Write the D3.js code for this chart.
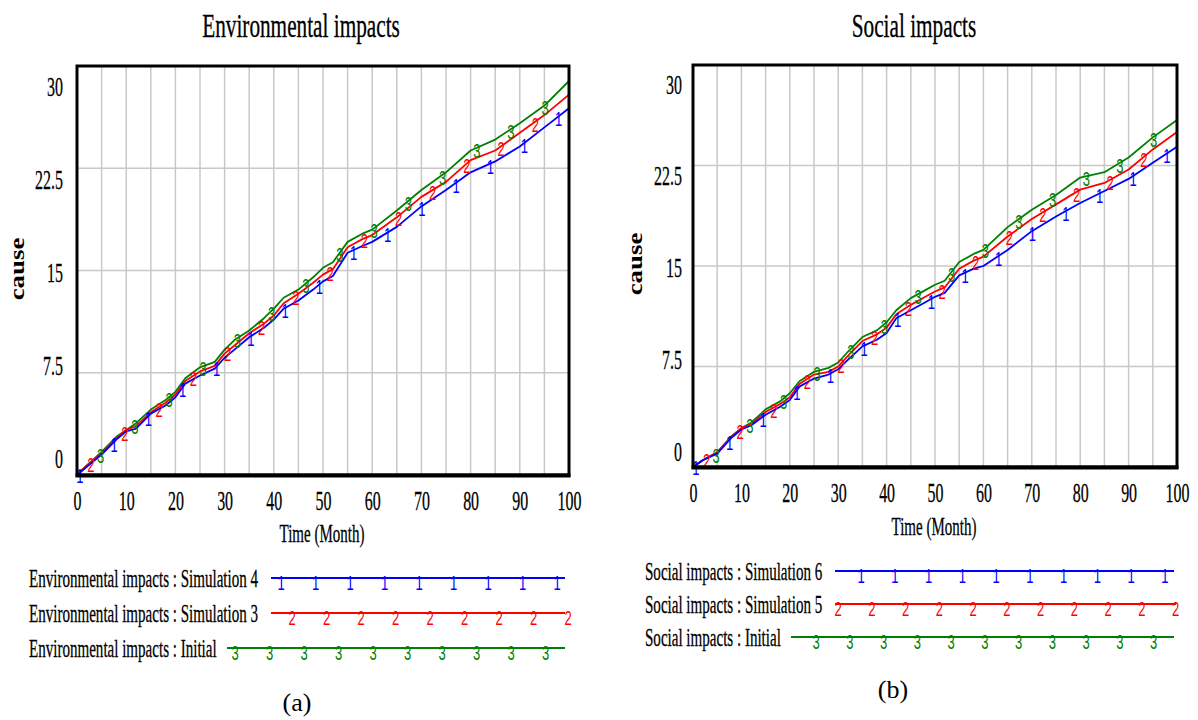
<!DOCTYPE html>
<html><head><meta charset="utf-8">
<script src="https://cdn.jsdelivr.net/npm/d3@7"></script>
<style>body{margin:0;background:#fff}svg{display:block}</style>
</head><body>
<svg id="c" width="1198" height="720"></svg>
<script>
// ---------- data ----------
const TIME = [0,2,5,8,10,12,15,18,20,22,25,28,30,32,35,38,40,42,45,48,50,52,55,58,60,65,70,75,80,85,90,95,100];
const ENV_SIM4 = [0,0.6,1.5,2.6,3.2,3.4,4.5,5.1,5.7,6.7,7.3,7.8,8.6,9.2,10.1,10.8,11.4,12.2,12.8,13.6,14.2,14.6,16.3,16.8,17.1,18.2,19.7,20.9,22.2,23.0,24.1,25.5,26.9];
const ENV_SIM3 = [0,0.7,1.6,2.7,3.3,3.6,4.6,5.3,5.9,6.9,7.6,8.0,8.9,9.5,10.4,11.1,11.7,12.6,13.3,14.1,14.7,15.1,16.7,17.3,17.6,18.9,20.4,21.5,23.1,23.8,25.1,26.4,27.9];
const ENV_INIT = [0,0.7,1.7,2.8,3.3,3.8,4.8,5.5,6.1,7.1,7.9,8.3,9.2,9.9,10.6,11.5,12.2,13.0,13.6,14.5,15.2,15.6,17.1,17.7,18.0,19.4,20.9,22.2,23.8,24.6,25.8,27.1,28.9];
const SOC_SIM6 = [0,0.5,1.0,2.2,2.8,3.1,3.9,4.5,5.0,6.0,6.6,6.9,7.3,8.0,9.0,9.5,10.0,11.1,11.7,12.3,12.7,13.0,14.3,14.8,15.0,16.2,17.6,18.7,19.7,20.6,21.5,22.7,23.9];
const SOC_SIM5 = [0,0.5,1.1,2.3,2.9,3.2,4.1,4.7,5.2,6.2,6.9,7.1,7.5,8.3,9.4,9.9,10.4,11.4,12.1,12.7,13.1,13.4,14.8,15.4,15.7,17.2,18.5,19.6,20.7,21.2,22.2,23.7,25.0];
const SOC_INIT = [0,0.5,1.1,2.3,2.9,3.3,4.3,4.9,5.5,6.4,7.1,7.4,7.8,8.6,9.7,10.2,10.8,11.7,12.6,13.2,13.6,13.9,15.3,15.9,16.2,17.9,19.2,20.3,21.6,22.0,23.1,24.6,25.9];
const X_TICKS = [0,10,20,30,40,50,60,70,80,90,100];
const Y_TICKS = [0,7.5,15,22.5,30];
const ENV_NAMES = ["Environmental impacts : Simulation 4","Environmental impacts : Simulation 3","Environmental impacts : Initial"];
const SOC_NAMES = ["Social impacts : Simulation 6","Social impacts : Simulation 5","Social impacts : Initial"];
const MARKS = ["1","2","3"];
const COLORS = ["#0000ff","#ff0000","#008000"];
const TITLES = ["Environmental impacts","Social impacts"];
const Y_LABEL = "cause";
const X_LABEL = "Time (Month)";
const PANEL_LABELS = ["(a)","(b)"];

// ---------- layout ----------
const SERIF = "'Liberation Serif','Times New Roman',serif";
const SANS = "'Liberation Sans',Arial,sans-serif";
const svg = d3.select("#c");
svg.append("rect").attr("width",1198).attr("height",720).attr("fill","#fff");

function ctext(parent, str, x, y, o) {
  return parent.append("text")
    .attr("transform", `translate(${x},${y})` + (o.rotate ? ` rotate(${o.rotate})` : "") + ` scale(${o.sx},1)`)
    .attr("font-family", o.family || SERIF)
    .attr("font-size", o.size)
    .attr("font-weight", o.weight || "normal")
    .attr("text-anchor", o.anchor || "start")
    .attr("fill", o.fill || "#000")
    .attr("stroke", o.halo ? (o.fill || "#000") : "none")
    .attr("stroke-width", o.halo || 0)
    .text(str);
}

const panels = [
  { series:[ENV_SIM4,ENV_SIM3,ENV_INIT], names:ENV_NAMES, title:TITLES[0], panel:PANEL_LABELS[0],
    x0:77, x1:569, y0:475, y1:66, lab0:467, lab30:95, labRight:63, xLabBase:510,
    titleX:301, titleY:37, timeX:322, timeY:542, causeX:24, causeY:269,
    leg:{ rows:[578,613,648], textX:29, lineStart:[271,271,227], lineEnd:[565,565,565], first:[281,292,235], step:34.5, count:[9,9,10] },
    pX:297, pY:711 },
  { series:[SOC_SIM6,SOC_SIM5,SOC_INIT], names:SOC_NAMES, title:TITLES[1], panel:PANEL_LABELS[1],
    x0:693, x1:1177, y0:467, y1:65, lab0:460, lab30:93, labRight:682, xLabBase:502,
    titleX:914, titleY:37, timeX:934, timeY:535, causeX:642, causeY:264,
    leg:{ rows:[571,604,637], textX:645, lineStart:[835,835,791], lineEnd:[1174,1176,1174], first:[861,838,816], step:33.75, count:[10,11,11] },
    pX:893, pY:698 }
];

const MARK_START = [0.6, 2.8, 4.8];
const MARK_STEP = 6.95;

panels.forEach(P => {
  const g = svg.append("g");
  const x = d3.scaleLinear().domain([0,100]).range([P.x0,P.x1]);
  const y = d3.scaleLinear().domain([0,30]).range([P.y0,P.y1]);
  const yLab = d3.scaleLinear().domain([0,30]).range([P.lab0,P.lab30]);

  // title
  ctext(g, P.title, P.titleX, P.titleY, {size:34, sx:0.625, anchor:"middle", halo:0.3});

  // grid
  g.append("g").selectAll("line").data(d3.range(5,100,5)).join("line")
    .attr("x1",d=>x(d)).attr("x2",d=>x(d)).attr("y1",y(0)).attr("y2",y(30))
    .attr("stroke","#c8c8c8").attr("stroke-width",1.5);
  g.append("g").selectAll("line").data([7.5,15,22.5]).join("line")
    .attr("x1",x(0)).attr("x2",x(100)).attr("y1",d=>y(d)).attr("y2",d=>y(d))
    .attr("stroke","#c8c8c8").attr("stroke-width",1.5);

  // series lines (3 first, 1 on top)
  const line = d3.line().x((d,i)=>x(TIME[i])).y(d=>y(d));
  [2,1,0].forEach(k => {
    g.append("path").datum(P.series[k]).attr("d",line)
      .attr("fill","none").attr("stroke",COLORS[k]).attr("stroke-width",1.8)
      .attr("stroke-linejoin","round");
  });
  // series markers
  [2,1,0].forEach(k => {
    const along = d3.scaleLinear().domain(TIME).range(P.series[k]);
    const ts = [];
    for (let t = MARK_START[k]; t <= 100.01; t += MARK_STEP) ts.push(Math.min(t,100));
    ts.forEach(t => {
      ctext(g, MARKS[k], x(t), y(along(t)) + 10, {size:21, sx:0.62, family:SANS, anchor:"middle", fill:COLORS[k]});
    });
  });

  // frame
  g.append("rect").attr("x",P.x0).attr("y",P.y1).attr("width",P.x1-P.x0).attr("height",P.y0-P.y1)
    .attr("fill","none").attr("stroke","#000").attr("stroke-width",3);
  g.append("line").attr("x1",P.x0-1.5).attr("x2",P.x1+1.5).attr("y1",P.y0+0.5).attr("y2",P.y0+0.5)
    .attr("stroke","#000").attr("stroke-width",4);

  // x tick labels
  const xa = g.append("g").attr("transform",`translate(0,${P.xLabBase})`)
    .call(d3.axisBottom(x).tickValues(X_TICKS).tickSize(0).tickFormat(d3.format("d")));
  xa.select(".domain").remove();
  xa.selectAll("text").attr("y",0).attr("dy",0).attr("transform","scale(0.57,1)")
    .attr("font-family",SERIF).attr("font-size",28).attr("fill","#000")
    .attr("stroke","#000").attr("stroke-width",0.3);

  // y tick labels
  const ya = g.append("g").attr("transform",`translate(${P.labRight},0)`)
    .call(d3.axisLeft(yLab).tickValues(Y_TICKS).tickSize(0).tickFormat(d=>String(d)));
  ya.select(".domain").remove();
  ya.selectAll("text").attr("x",0).attr("dy",0).attr("text-anchor","end").attr("transform","scale(0.57,1)")
    .attr("font-family",SERIF).attr("font-size",28).attr("fill","#000")
    .attr("stroke","#000").attr("stroke-width",0.3);

  // axis titles
  ctext(g, X_LABEL, P.timeX, P.timeY, {size:25, sx:0.6, anchor:"middle", halo:0.3});
  ctext(g, Y_LABEL, P.causeX, P.causeY, {size:21, sx:1.28, anchor:"middle", weight:"bold", rotate:-90});

  // legend
  const L = P.leg;
  [0,1,2].forEach(k => {
    const ry = L.rows[k];
    ctext(g, P.names[k], L.textX, ry + 9, {size:26, sx:0.579, halo:0.3});
    g.append("line").attr("x1",L.lineStart[k]).attr("x2",L.lineEnd[k]).attr("y1",ry).attr("y2",ry)
      .attr("stroke",COLORS[k]).attr("stroke-width",2);
    d3.range(L.count[k]).forEach(j => {
      ctext(g, MARKS[k], L.first[k] + j*L.step, ry + 12, {size:21, sx:0.62, family:SANS, anchor:"middle", fill:COLORS[k]});
    });
  });

  // panel label
  ctext(g, P.panel, P.pX, P.pY, {size:26, sx:1, anchor:"middle"});
});
</script>
</body></html>
